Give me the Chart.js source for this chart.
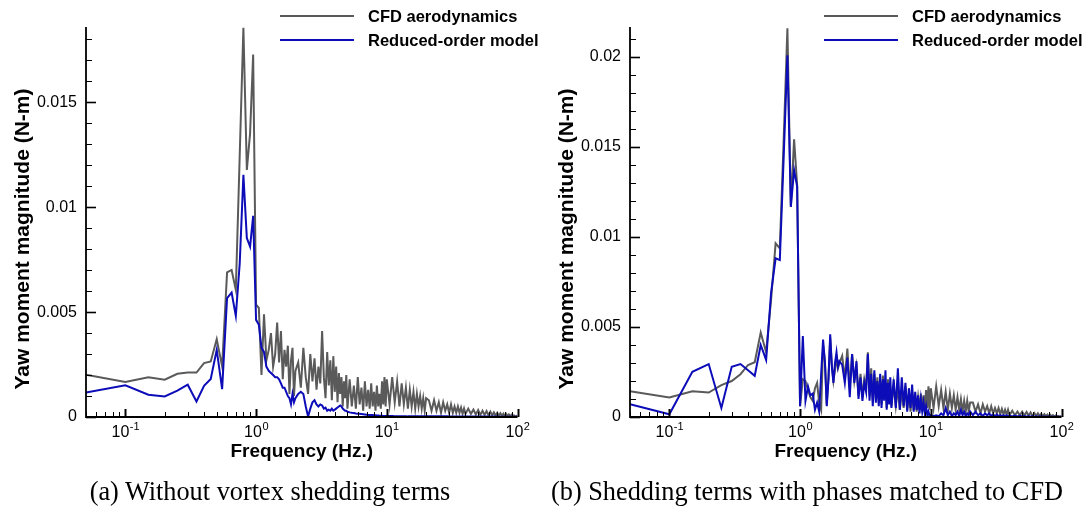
<!DOCTYPE html>
<html>
<head>
<meta charset="utf-8">
<script src="https://cdn.jsdelivr.net/npm/chart.js@4.4.1/dist/chart.umd.min.js"></script>
<style>
  html, body { margin: 0; padding: 0; background: #fff; }
  #wrap { position: relative; width: 1090px; height: 510px; overflow: hidden; background: #fff; }
  canvas { position: absolute; top: 0; }
  .cap { position: absolute; top: 479px; font-family: "Liberation Serif", "Times New Roman", serif; font-size: 26.3px; line-height: 26px; color: #000; white-space: nowrap; transform: translateX(-50%); }
</style>
</head>
<body>
<div id="wrap">
  <canvas id="cA" width="545" height="510" style="left:0px"></canvas>
  <canvas id="cB" width="545" height="510" style="left:544px"></canvas>
  <div class="cap" id="capA" style="left:270px"></div>
  <div class="cap" id="capB" style="left:807px"></div>
</div>
<script>
// ---------------- DATA ----------------
const seriesNames = ["CFD aerodynamics", "Reduced-order model"];
const captions = ["(a) Without vortex shedding terms", "(b) Shedding terms with phases matched to CFD"];
const xTitle = "Frequency (Hz.)";
const yTitle = "Yaw moment magnitude (N-m)";
const xTickExponents = [-1, 0, 1, 2];
const yTicksA = [0, 0.005, 0.01, 0.015];
const yTicksB = [0, 0.005, 0.01, 0.015, 0.02];

const frequency = [
  0.05,0.1,0.15,0.2,0.25,0.3,0.35,0.4,0.45,0.5,0.55,0.6,0.65,0.7,0.75,0.8,0.85,0.9,0.95,1.0,
  1.05,1.1,1.15,1.2,1.25,1.3,1.35,1.4,1.45,1.5,1.55,1.6,1.65,1.7,1.75,1.8,1.85,1.9,1.95,2.0,
  2.1,2.2,2.3,2.4,2.5,2.6,2.7,2.8,2.9,3.0,
  3.1,3.2,3.3,3.4,3.5,3.6,3.7,3.8,3.9,4.0,
  4.1,4.2,4.3,4.4,4.5,4.6,4.7,4.8,4.9,5.0,
  5.2,5.4,5.6,5.8,6.0,6.2,6.4,6.6,6.8,7.0,
  7.2,7.4,7.6,7.8,8.0,8.2,8.4,8.6,8.8,9.0,
  9.2,9.4,9.6,9.8,10,
  10.5,11,11.5,12,12.5,13,13.5,14,14.5,15,15.5,16,16.5,17,17.5,18,18.5,19,19.5,20,
  21,22,23,24,25,26,27,28,29,30,31,32,33,34,35,36,37,38,39,40,
  42,44,46,48,50,52,54,56,58,60,62,64,66,68,70,72,74,76,78,80,82,84,86,88,90,92,94,96,98,100
];

// (a) without vortex shedding terms
const cfdA = [
  0.00201,0.00167,0.00189,0.00178,0.00206,0.00212,0.00212,0.00257,0.00265,0.00371,0.00241,0.00689,0.00701,0.00606,0.0125,0.01855,0.01178,0.01352,0.01728,0.00535,
  0.0052,0.0020,0.0049,0.0027,0.0032,0.0040,0.0024,0.0030,0.0045,0.0026,0.0041,0.0018,0.0032,0.0024,0.0034,0.0011,0.0027,0.0033,0.0010,0.0022,
  0.0026,0.0014,0.0033,0.0019,0.0011,0.0030,0.0017,0.0028,0.0013,0.0024,
  0.0016,0.0041,0.0019,0.0009,0.0031,0.0015,0.0027,0.0008,0.0029,0.0012,
  0.0024,0.0007,0.0021,0.0011,0.0019,0.0005,0.0017,0.0009,0.0020,0.0004,
  0.0018,0.0005,0.0015,0.0004,0.0019,0.0006,0.0014,0.0003,0.0017,0.0005,
  0.0013,0.0004,0.0016,0.0005,0.0012,0.0003,0.0015,0.0005,0.0011,0.0004,
  0.0017,0.0006,0.0019,0.0005,0.0018,
  0.0006,0.0019,0.0007,0.0017,0.0005,0.0016,0.0006,0.0014,0.0004,0.0013,0.0005,0.0012,0.0004,0.0011,0.0005,0.0010,0.0004,0.0009,0.0003,0.0009,
  0.0008,0.0003,0.0008,0.0003,0.0007,0.0002,0.0007,0.0003,0.0006,0.0002,0.0006,0.0002,0.0005,0.0002,0.0005,0.0002,0.00045,0.00015,0.0004,0.00015,
  0.0004,0.00015,0.00035,0.00012,0.00033,0.0001,0.0003,0.0001,0.00028,0.00008,0.00025,0.00008,0.00022,0.00006,0.0002,0.00006,0.00018,0.00005,0.00016,0.00004,0.00014,0.00004,0.00012,0.00003,0.0001,0.00003,0.00008,0.00002,0.00005,0.00001
];
const romA = [
  0.00117,0.00151,0.00106,0.00098,0.00126,0.00154,0.00074,0.00149,0.00181,0.0032,0.00133,0.00567,0.00593,0.00482,0.00733,0.01154,0.00853,0.00812,0.00959,0.00463,
  0.0044,0.0033,0.0031,0.0024,0.0022,0.0021,0.0020,0.0019,0.0019,0.0018,0.0016,0.0014,0.0014,0.0012,0.0010,0.0009,0.0006,0.0011,0.0007,0.0009,
  0.0011,0.0012,0.0011,0.0005,0.00002,0.0004,0.0007,0.0008,0.0006,0.0005,
  0.0006,0.00055,0.0004,0.00045,0.0003,0.00035,0.0003,0.0004,0.0003,0.00035,
  0.0004,0.00045,0.0005,0.00055,0.0005,0.0004,0.00035,0.0003,0.0003,0.00025,
  0.00022,0.0002,0.00019,0.00017,0.00016,0.00015,0.00014,0.00013,0.00012,0.00011,
  0.0001,0.0001,0.00009,0.00009,0.00008,0.00008,0.00007,0.00007,0.00006,0.00006,
  0.00006,0.00005,0.00005,0.00005,0.00005,
  0.00005,0.00005,0.00004,0.00004,0.00004,0.00004,0.00004,0.00004,0.00003,0.00003,0.00003,0.00003,0.00003,0.00003,0.00003,0.00003,0.00003,0.00003,0.00003,0.00003,
  0.00003,0.00003,0.00003,0.00003,0.00003,0.00003,0.00003,0.00003,0.00003,0.00002,0.00002,0.00002,0.00002,0.00002,0.00002,0.00002,0.00002,0.00002,0.00002,0.00002,
  0.00002,0.00002,0.00002,0.00002,0.00002,0.00002,0.00002,0.00002,0.00002,0.00002,0.00002,0.00002,0.00002,0.00002,0.00002,0.00001,0.00001,0.00001,0.00001,0.00001,0.00001,0.00001,0.00001,0.00001,0.00001,0.00001,0.00001,0.00001,0.00001,0.00001
];

// (b) shedding terms with phases matched to CFD
const cfdB = [
  0.00143,0.00108,0.00143,0.00136,0.00177,0.0020,0.00238,0.00289,0.00304,0.00469,0.0036,0.0065,0.00965,0.00937,0.0155,0.0216,0.01168,0.01543,0.01289,0.0006,
  0.0021,0.0020,0.0015,0.0011,0.0009,0.0016,0.0019,0.0008,0.0004,0.0040,0.0031,0.0007,0.0022,0.0044,0.0029,0.0020,0.0026,0.0033,0.0027,0.0030,
  0.0034,0.0021,0.0038,0.0016,0.0035,0.0020,0.0028,0.0012,0.0024,0.0011,
  0.0021,0.0016,0.0036,0.0012,0.0027,0.0009,0.0024,0.0010,0.0022,0.0008,
  0.0020,0.0007,0.0023,0.0010,0.0018,0.0005,0.0021,0.0008,0.0017,0.0006,
  0.0018,0.0006,0.0016,0.0004,0.0015,0.0005,0.0017,0.0004,0.0013,0.0003,
  0.0014,0.0004,0.0012,0.0003,0.0011,0.0004,0.0013,0.0003,0.0012,0.0004,
  0.0015,0.0005,0.0017,0.0004,0.0016,
  0.0005,0.0017,0.0006,0.0015,0.0005,0.0014,0.0004,0.0013,0.0005,0.0012,0.0004,0.0011,0.0004,0.0010,0.0003,0.0009,0.0003,0.0009,0.0003,0.0008,
  0.0008,0.0003,0.0007,0.0002,0.0007,0.0003,0.0006,0.0002,0.0006,0.0002,0.0005,0.0002,0.0005,0.00015,0.00045,0.00015,0.0004,0.00012,0.0004,0.0001,
  0.00035,0.0001,0.0003,0.0001,0.0003,0.00008,0.00028,0.00008,0.00025,0.00006,0.00022,0.00006,0.0002,0.00005,0.00018,0.00005,0.00016,0.00004,0.00014,0.00004,0.00012,0.00003,0.0001,0.00003,0.00008,0.00002,0.00006,0.00002,0.00004,0.00001
];
const romB = [
  0.00071,0.00015,0.00251,0.00294,0.0005,0.00279,0.00294,0.0026,0.00229,0.0040,0.00317,0.0069,0.00882,0.00872,0.0145,0.0201,0.01168,0.01372,0.0128,0.0006,
  0.0045,0.0009,0.0017,0.0012,0.0013,0.0004,0.0008,0.0003,0.0024,0.0043,0.0030,0.0006,0.0021,0.0046,0.0028,0.0019,0.0030,0.0036,0.0028,0.0031,
  0.0029,0.0019,0.0033,0.0011,0.0035,0.0019,0.0031,0.0010,0.0022,0.0009,
  0.0019,0.0014,0.0035,0.0009,0.0024,0.0006,0.0026,0.0008,0.0020,0.0006,
  0.0024,0.0005,0.0021,0.0009,0.0026,0.0004,0.0019,0.0007,0.0022,0.0005,
  0.0021,0.0005,0.0027,0.0004,0.0022,0.0006,0.0019,0.0003,0.0016,0.0005,
  0.0018,0.0003,0.0014,0.0004,0.0012,0.0002,0.0010,0.0003,0.0008,0.0002,
  0.0006,0.0001,0.0003,0.00005,0.0001,
  0.00005,0.0001,0.00005,0.0002,0.0001,0.0005,0.0001,0.0003,0.00005,0.0002,0.0001,0.0003,0.00005,0.0004,0.0001,0.0003,0.00005,0.0002,0.0001,0.0003,
  0.0001,0.0003,0.0001,0.0002,0.00005,0.0002,0.0001,0.0002,0.00005,0.00015,0.00005,0.00015,0.00005,0.0001,0.00005,0.0001,0.00003,0.0001,0.00003,0.00008,
  0.00003,0.00008,0.00003,0.00007,0.00003,0.00006,0.00002,0.00005,0.00002,0.00005,0.00002,0.00004,0.00002,0.00004,0.00002,0.00003,0.00001,0.00003,0.00001,0.00003,0.00001,0.00002,0.00001,0.00002,0.00001,0.00002,0.00001,0.00001,0.00001,0.00001
];

// ---------------- STYLE ----------------
const GRAY = "#5a5a5a";
const BLUE = "#0c0cb8";
const SANS = '"Liberation Sans", Arial, Helvetica, sans-serif';

const decor = {
  id: 'decor',
  afterDraw(chart, args, o) {
    const { ctx, chartArea: ca, scales: { x, y } } = chart;
    ctx.save();
    ctx.strokeStyle = '#000';
    ctx.fillStyle = '#000';
    // y minor / major ticks (inward)
    for (let k = 0; k * o.yMinor <= o.yMax + 1e-12; k++) {
      const v = k * o.yMinor;
      const py = Math.round(y.getPixelForValue(v)) + 0.5;
      const major = (k % o.minorPerMajor) === 0;
      ctx.lineWidth = major ? 1.6 : 1;
      ctx.beginPath();
      ctx.moveTo(ca.left, py);
      ctx.lineTo(ca.left + (major ? 10 : 6), py);
      ctx.stroke();
    }
    // x ticks (inward)
    for (let d = -2; d <= 2; d++) {
      for (let m = 1; m <= 9; m++) {
        const f = m * Math.pow(10, d);
        if (f < 0.0499 || f > 100.001) continue;
        const px = Math.round(x.getPixelForValue(f)) + 0.5;
        const major = m === 1;
        ctx.lineWidth = major ? 2 : 1;
        ctx.beginPath();
        ctx.moveTo(px, ca.bottom);
        ctx.lineTo(px, ca.bottom - (major ? 8 : 5));
        ctx.stroke();
      }
    }
    // axis lines
    ctx.lineWidth = 1.8;
    ctx.beginPath();
    ctx.moveTo(ca.left, ca.top);
    ctx.lineTo(ca.left, ca.bottom);
    ctx.lineTo(ca.right, ca.bottom);
    ctx.stroke();
    // x tick labels 10^n
    ctx.textBaseline = 'alphabetic';
    ctx.textAlign = 'left';
    xTickExponents.forEach(e => {
      const px = x.getPixelForValue(Math.pow(10, e));
      ctx.font = '16px ' + SANS;
      const w1 = ctx.measureText('10').width;
      ctx.font = '11px ' + SANS;
      const es = String(e);
      const w2 = ctx.measureText(es).width;
      const x0 = px - (w1 + w2) / 2;
      ctx.font = '16px ' + SANS;
      ctx.fillText('10', x0, 437);
      ctx.font = '11px ' + SANS;
      ctx.fillText(es, x0 + w1 + 0.5, 430);
    });
    // x title
    ctx.font = 'bold 19px ' + SANS;
    ctx.textAlign = 'center';
    ctx.textBaseline = 'middle';
    ctx.fillText(xTitle, (ca.left + ca.right) / 2, 452);
    // y title
    ctx.save();
    ctx.translate(23.5, 239);
    ctx.rotate(-Math.PI / 2);
    ctx.font = 'bold 21px ' + SANS;
    ctx.fillText(yTitle, 0, 0);
    ctx.restore();
    // legend
    ctx.font = 'bold 16.5px ' + SANS;
    ctx.textAlign = 'left';
    ctx.textBaseline = 'middle';
    const ly = [16, 40];
    chart.data.datasets.forEach((ds, i) => {
      ctx.strokeStyle = ds.borderColor;
      ctx.lineWidth = 2;
      ctx.beginPath();
      ctx.moveTo(280, ly[i]);
      ctx.lineTo(354, ly[i]);
      ctx.stroke();
      ctx.fillStyle = '#000';
      ctx.fillText(ds.label, 368, ly[i] + 1);
    });
    ctx.restore();
  }
};

function makeChart(id, cfd, rom, yMax, yTicks) {
  const el = document.getElementById(id);
  return new Chart(el.getContext('2d'), {
    type: 'line',
    data: {
      datasets: [
        { label: seriesNames[0], data: frequency.map((f, i) => ({ x: f, y: cfd[i] })),
          borderColor: GRAY, borderWidth: 2, pointRadius: 0, tension: 0, fill: false, order: 1 },
        { label: seriesNames[1], data: frequency.map((f, i) => ({ x: f, y: rom[i] })),
          borderColor: BLUE, borderWidth: 2, pointRadius: 0, tension: 0, fill: false, order: 0 }
      ]
    },
    options: {
      responsive: false,
      animation: false,
      devicePixelRatio: 1,
      layout: { padding: { top: 27, right: 27.5, left: 0, bottom: 0 } },
      plugins: {
        legend: { display: false },
        tooltip: { enabled: false },
        decor: { yMax: yMax, yMinor: 0.001, minorPerMajor: 5 }
      },
      scales: {
        x: {
          type: 'logarithmic', min: 0.05, max: 100,
          grid: { display: false, drawTicks: false },
          border: { display: false },
          ticks: { display: false },
          afterFit: s => { s.height = 93; }
        },
        y: {
          type: 'linear', min: 0, max: yMax,
          grid: { display: false, drawTicks: false },
          border: { display: false },
          ticks: {
            color: '#000', padding: 9, font: { family: SANS, size: 16 },
            callback: v => String(+Number(v).toFixed(4))
          },
          afterBuildTicks: s => { s.ticks = yTicks.map(v => ({ value: v })); },
          afterFit: s => { s.width = 86; }
        }
      }
    },
    plugins: [decor]
  });
}

makeChart('cA', cfdA, romA, 0.01859, yTicksA);
makeChart('cB', cfdB, romB, 0.02167, yTicksB);
document.getElementById('capA').textContent = captions[0];
document.getElementById('capB').textContent = captions[1];
</script>
</body>
</html>
